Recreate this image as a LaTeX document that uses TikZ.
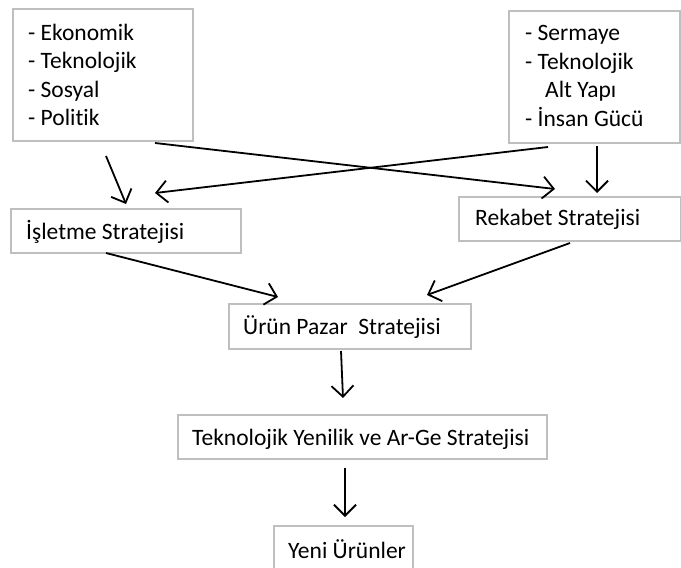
\documentclass[tikz,border=0pt]{standalone}
\usepackage{fontspec}
\setmainfont{Carlito}[Ligatures=NoCommon]
\usetikzlibrary{arrows.meta}
\definecolor{boxgray}{HTML}{BFBFBF}
\tikzset{
  box/.style={draw=boxgray, line width=2pt, anchor=north west, inner sep=0pt},
  txt/.style={anchor=west, inner sep=0pt, align=left,
    font=\fontsize{23.5}{28.5}\selectfont},
  flow/.style={draw=black, line width=1.8pt,
    -{Straight Barb[length=11pt,width=22pt,line width=1.8pt]}},
}
\begin{document}
\begin{tikzpicture}[x=1pt,y=-1pt]
\useasboundingbox (0,0) rectangle (681,568);
% boxes
\node[box, minimum width=180, minimum height=132] (env) at (12,8) {};
\node[box, minimum width=171, minimum height=132] (res) at (508,10) {};
\node[box, minimum width=230, minimum height=44] (isl) at (10,208) {};
\node[box, minimum width=222, minimum height=44] (rek) at (458,196) {};
\node[box, minimum width=242, minimum height=45] (urn) at (228,303) {};
\node[box, minimum width=369, minimum height=44] (tek) at (177,414) {};
\node[box, minimum width=139, minimum height=44] (yen) at (273,525) {};
% texts
\node[txt] (envt) at (28,75) {- Ekonomik\\- Teknolojik\\- Sosyal\\- Politik};
\node[txt] (rest) at (525,76) {- Sermaye\\- Teknolojik\\\hspace*{20pt}Alt Yapı\\- İnsan Gücü};
\node[txt] (islt) at (26,232) {İşletme Stratejisi};
\node[txt] (rekt) at (475,219) {Rekabet Stratejisi};
\node[txt] (urnt) at (243,327) {Ürün Pazar\ \ Stratejisi};
\node[txt] (tekt) at (192,439) {Teknolojik Yenilik ve Ar-Ge Stratejisi};
\node[txt] (yent) at (288,549) {Yeni Ürünler};
% connector end points
\coordinate (a1s) at (106,156);
\coordinate (a1e) at (126,204);
\coordinate (a2s) at (548,147);
\coordinate (a2e) at (155,193);
\coordinate (a3s) at (155,143);
\coordinate (a3e) at (555,189);
\coordinate (a4s) at (597,146);
\coordinate (a4e) at (597,193);
\coordinate (a5s) at (106,253);
\coordinate (a5e) at (278,297);
\coordinate (a6s) at (570,243);
\coordinate (a6e) at (427,295);
\coordinate (a7s) at (341,351);
\coordinate (a7e) at (343,398);
\coordinate (a8s) at (345,468);
\coordinate (a8e) at (345,517);
% connectors
\draw[flow] (a1s) -- (a1e);
\draw[flow] (a2s) -- (a2e);
\draw[flow] (a3s) -- (a3e);
\draw[flow] (a4s) -- (a4e);
\draw[flow] (a5s) -- (a5e);
\draw[flow] (a6s) -- (a6e);
\draw[flow] (a7s) -- (a7e);
\draw[flow] (a8s) -- (a8e);
\end{tikzpicture}
\end{document}
